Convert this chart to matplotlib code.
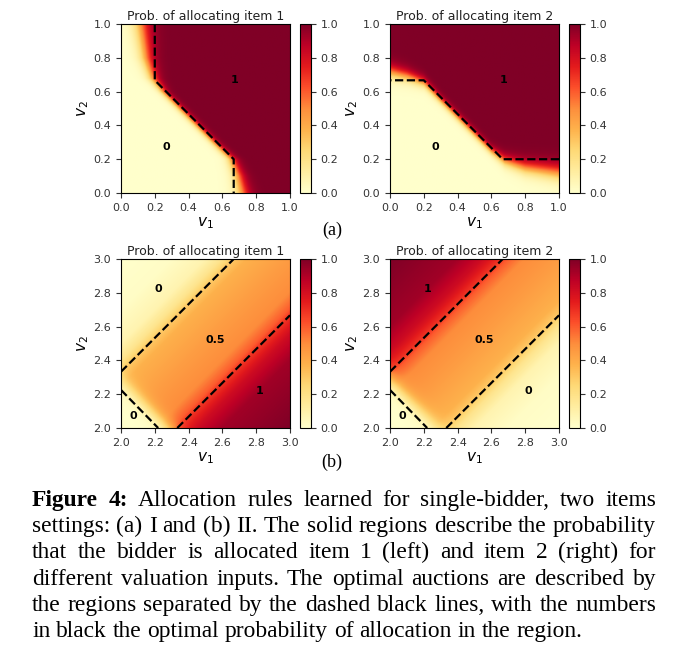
import numpy as np
import matplotlib.pyplot as plt

W, H = 681, 656

# ---- setting I, v in [0,1]^2 ----
# optimal (dashed) boundary, item 1 ; item 2 is the mirror image
a_opt_v1 = [0.2, 0.2, 0.667, 0.667]
a_opt_v2 = [1.0, 0.667, 0.2, 0.0]
# learned switch line: position along the other axis
a_knots = [0.0, 0.1, 0.2, 0.3, 0.45, 0.6, 0.68, 0.8, 1.0]
a_center = [0.72, 0.695, 0.655, 0.55, 0.40, 0.25, 0.19, 0.15, 0.12]
a_width = [0.025, 0.022, 0.018, 0.015, 0.015, 0.015, 0.02, 0.025, 0.03]
a_labels = [("0", 0.27, 0.27), ("1", 0.67, 0.67)]

# ---- setting II, v in [2,3]^2 ----
b_upper = ([2.0, 2.667], [2.333, 3.0])
b_lower = ([2.333, 3.0], [2.0, 2.667])
b_corner = ([2.0, 2.22], [2.225, 2.0])
# learned prob. of item 1 against v1 - v2
b_diff = [-1.0, -0.7, -0.5, -0.4, -0.333, -0.25, 0.0, 0.2, 0.3, 0.333, 0.45, 0.6, 1.0]
b_prob = [0.0, 0.02, 0.08, 0.18, 0.30, 0.38, 0.45, 0.50, 0.60, 0.68, 0.82, 0.93, 1.0]
b_corner_sum, b_corner_w = 4.28, 0.035
b_labels1 = [("0", 2.22, 2.82), ("0.5", 2.56, 2.52), ("1", 2.82, 2.22), ("0", 2.07, 2.07)]
b_labels2 = [("1", 2.22, 2.82), ("0.5", 2.56, 2.52), ("0", 2.82, 2.22), ("0", 2.07, 2.07)]

caption = [
    "Figure 4: Allocation rules learned for single-bidder, two items",
    "settings: (a) I and (b) II. The solid regions describe the probability",
    "that the bidder is allocated item 1 (left) and item 2 (right) for",
    "different valuation inputs. The optimal auctions are described by",
    "the regions separated by the dashed black lines, with the numbers",
    "in black the optimal probability of allocation in the region.",
]


def sig(z):
    return 1.0 / (1.0 + np.exp(-z))


n = 300
g = np.linspace(0, 1, n)
X, Y = np.meshgrid(g, g)
c = np.interp(Y, a_knots, a_center)
w = np.interp(Y, a_knots, a_width)
pa1 = sig((X - c) / w)
pa2 = pa1.T

gb = np.linspace(2, 3, n)
XB, YB = np.meshgrid(gb, gb)
corner = sig((XB + YB - b_corner_sum) / b_corner_w)
pb1 = np.interp(XB - YB, b_diff, b_prob) * corner
pb2 = np.interp(YB - XB, b_diff, b_prob) * corner

fig = plt.figure(figsize=(W / 100, H / 100), dpi=100)


def box(x0, y0, x1, y1):
    return [x0 / W, 1 - y1 / H, (x1 - x0) / W, (y1 - y0) / H]


def panel(x0, y0, data, ext, title, lines, labels, ticks):
    ax = fig.add_axes(box(x0, y0, x0 + 169, y0 + 169))
    im = ax.imshow(data, extent=ext, origin="lower", cmap="YlOrRd", vmin=0, vmax=1,
                   aspect="auto", interpolation="bilinear")
    for xs, ys in lines:
        ax.plot(xs, ys, "k--", lw=1.6)
    for s, lx, ly in labels:
        ax.text(lx, ly, s, ha="center", va="center", fontsize=8, fontweight="bold")
    ax.set_xlim(ext[0], ext[1])
    ax.set_ylim(ext[2], ext[3])
    ax.set_xticks(ticks)
    ax.set_yticks(ticks)
    ax.tick_params(labelsize=8, length=3.5, colors="#333333")
    ax.set_title(title, fontsize=9, pad=3, color="#222222")
    ax.set_xlabel("$v_1$", fontsize=11, labelpad=2)
    ax.set_ylabel("$v_2$", fontsize=11, labelpad=2)
    cax = fig.add_axes(box(x0 + 179, y0, x0 + 190, y0 + 169))
    cb = fig.colorbar(im, cax=cax, ticks=np.linspace(0, 1, 6))
    cb.ax.tick_params(labelsize=8, length=3.5, colors="#333333")
    cb.ax.set_yticklabels(["%.1f" % t for t in np.linspace(0, 1, 6)])


ta = np.round(np.linspace(0, 1, 6), 1)
tb = np.round(np.linspace(2, 3, 6), 1)
panel(121, 24, pa1, [0, 1, 0, 1], "Prob. of allocating item 1",
      [(a_opt_v1, a_opt_v2)], a_labels, ta)
panel(390, 24, pa2, [0, 1, 0, 1], "Prob. of allocating item 2",
      [(a_opt_v2, a_opt_v1)], a_labels, ta)
panel(121, 259, pb1, [2, 3, 2, 3], "Prob. of allocating item 1",
      [b_upper, b_lower, b_corner], b_labels1, tb)
panel(390, 259, pb2, [2, 3, 2, 3], "Prob. of allocating item 2",
      [b_upper, b_lower, b_corner], b_labels2, tb)

fig.text(332 / W, 1 - 230 / H, "(a)", ha="center", va="center", fontsize=13,
         family="Liberation Serif")
fig.text(332 / W, 1 - 462 / H, "(b)", ha="center", va="center", fontsize=13,
         family="Liberation Serif")

# caption, justified between x_left and x_right
renderer = fig.canvas.get_renderer()
x_left, x_right = 32, 656
fs = 15


def measure(word, weight, size):
    t = fig.text(0, 0, word, fontsize=size, family="Liberation Serif", weight=weight)
    wd = t.get_window_extent(renderer).width
    t.remove()
    return wd


def words_of(line, i):
    ws = line.split(" ")
    return [(wd, "bold" if (i == 0 and k < 2) else "normal") for k, wd in enumerate(ws)]


space = lambda size: 0.25 * size * 100 / 72
widest = max(sum(measure(wd, wt, fs) for wd, wt in words_of(l, i)) +
             space(fs) * (len(l.split(" ")) - 1) for i, l in enumerate(caption[:-1]))
fs = fs * (x_right - x_left) / widest

for i, line in enumerate(caption):
    ws = words_of(line, i)
    widths = [measure(wd, wt, fs) for wd, wt in ws]
    if i < len(caption) - 1:
        gap = (x_right - x_left - sum(widths)) / (len(ws) - 1)
    else:
        gap = space(fs)
    x = x_left
    y = 506 + 26.2 * i
    for (wd, wt), wdt in zip(ws, widths):
        fig.text(x / W, 1 - y / H, wd, fontsize=fs, family="Liberation Serif",
                 weight=wt, ha="left", va="baseline")
        x += wdt + gap

fig.savefig("out.png", dpi=100)
